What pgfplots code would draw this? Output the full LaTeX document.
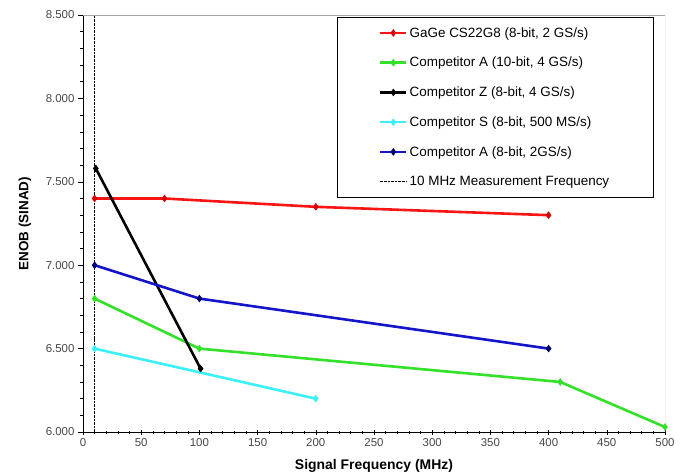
\documentclass[border=0pt]{standalone}
\usepackage{fontspec}
\setmainfont{Liberation Sans}
\usepackage{pgfplots}
\pgfplotsset{compat=1.18}

\definecolor{cred}{RGB}{250,20,20}
\definecolor{credm}{RGB}{215,0,0}
\definecolor{cgreen}{RGB}{50,225,40}
\definecolor{ccyan}{RGB}{60,240,250}
\definecolor{cblue}{RGB}{20,20,200}
\definecolor{cnavy}{RGB}{0,0,110}
\definecolor{tickgray}{RGB}{70,70,70}

\begin{document}
\begin{tikzpicture}
\begin{axis}[
  name=ax,
  scale only axis,
  width=582bp, height=417bp,
  xmin=0, xmax=500, ymin=6, ymax=8.5,
  xtick={0,50,...,500}, minor x tick num=4,
  ytick={6,6.5,...,8.5}, minor y tick num=4,
  axis x line*=bottom, axis y line*=left,
  axis line style={black, line width=0.6bp},
  tick style={black, line width=0.5bp},
  major tick length=5bp, minor tick length=3bp,
  xtick align=center, ytick align=outside,
  tick label style={font=\fontsize{11.5}{13}\selectfont, text=tickgray},
  /pgf/number format/assume math mode=true,
  yticklabel style={/pgf/number format/.cd, fixed, fixed zerofill, precision=3, 1000 sep={}},
  xticklabel style={/pgf/number format/.cd, fixed, precision=0, 1000 sep={}},
  xlabel={\textbf{Signal Frequency (MHz)}},
  ylabel={\textbf{ENOB (SINAD)}},
  xlabel style={font=\fontsize{14}{16}\selectfont, at={(axis description cs:0.5,-0.082)}, anchor=center},
  ylabel style={font=\fontsize{13.5}{16}\selectfont, at={(axis description cs:-0.10,0.5)}, anchor=center},
  legend style={at={(axis description cs:0.436,0.995)}, anchor=north west,
    draw=black, line width=0.6bp, fill=white,
    font=\fontsize{13.5}{15}\selectfont,
    inner xsep=42bp, inner ysep=8bp, row sep=14.5bp},
  legend cell align=left,
  legend image code/.code={%
    \draw[mark repeat=2,mark phase=2] plot coordinates {(0bp,0bp)(13bp,0bp)(26bp,0bp)};},
  every axis plot/.append style={line width=2.6bp},
  mark size=3.4bp,
]
\addplot[cred, mark=diamond*, mark options={fill=credm, draw=credm, line width=0.5bp}]
  coordinates {(10,7.40) (70,7.40) (200,7.35) (400,7.30)};
\addlegendentry{GaGe CS22G8 (8-bit, 2 GS/s)}
\addplot[cgreen, mark=diamond*, mark options={fill=cgreen, draw=cgreen, line width=0.5bp}]
  coordinates {(10,6.80) (100,6.50) (410,6.30) (500,6.03)};
\addlegendentry{Competitor A (10-bit, 4 GS/s)}
\addplot[black, mark=diamond*, mark options={fill=black, line width=0.5bp}]
  coordinates {(11,7.58) (101,6.38)};
\addlegendentry{Competitor Z (8-bit, 4 GS/s)}
\addplot[ccyan, mark=diamond*, mark options={fill=ccyan, draw=ccyan, line width=0.5bp}]
  coordinates {(10,6.50) (200,6.20)};
\addlegendentry{Competitor S (8-bit, 500 MS/s)}
\addplot[cblue, mark=diamond*, mark options={fill=cnavy, draw=cnavy, line width=0.5bp}]
  coordinates {(10,7.00) (100,6.80) (400,6.50)};
\addlegendentry{Competitor A (8-bit, 2GS/s)}
\addplot[black, densely dotted, line width=0.5bp, no marks]
  coordinates {(10,6.0) (10,8.5)};
\addlegendentry{10 MHz Measurement Frequency}
\draw[gray!70, line width=0.6bp] (axis cs:0,8.5) -- (axis cs:500,8.5) -- (axis cs:500,6);
\end{axis}
\pgfresetboundingbox
\path[use as bounding box] ([xshift=-83bp,yshift=-42bp]ax.south west) rectangle ([xshift=20bp,yshift=15bp]ax.north east);
\end{tikzpicture}
\end{document}
